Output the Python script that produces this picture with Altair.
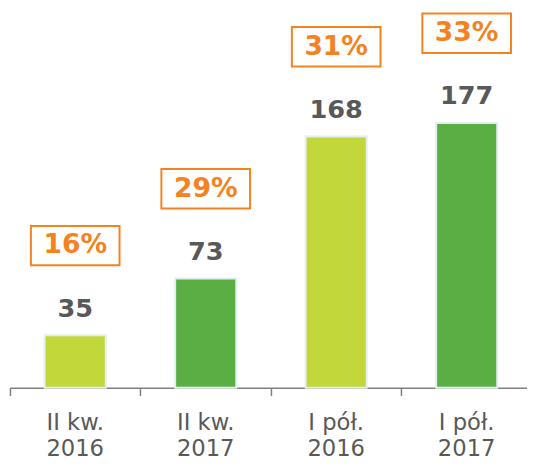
import altair as alt
import pandas as pd

categories = ["II kw.|2016", "II kw.|2017", "I pół.|2016", "I pół.|2017"]
values = [35, 73, 168, 177]
shares = ["16%", "29%", "31%", "33%"]
years = ["2016", "2017", "2016", "2017"]

df = pd.DataFrame({"cat": categories, "value": values, "share": shares, "year": years})

FONT = "DejaVu Sans"
GRAY = "#595959"
ORANGE = "#f58220"

x = alt.X(
    "cat:N",
    sort=categories,
    scale=alt.Scale(rangeMin=0, rangeMax=530, paddingInner=0, paddingOuter=0),
    axis=alt.Axis(
        title=None,
        labelExpr="split(datum.label, '|')",
        labelAngle=0,
        bandPosition=0,
        domainColor="#808080",
        tickColor="#808080",
        tickSize=8,
        domainWidth=1.5,
        tickWidth=1.5,
        labelFont=FONT,
        labelFontSize=23,
        labelColor=GRAY,
        labelLineHeight=26,
        labelPadding=17,
        labelBaseline="top",
    ),
)
y = alt.Y("value:Q", scale=alt.Scale(domain=[0, 251.6], nice=False), axis=None)

base = alt.Chart(df)

bars = base.mark_bar(width=62, stroke="#e3eef3", strokeWidth=2).encode(
    x=x,
    y=y,
    color=alt.Color(
        "year:N",
        scale=alt.Scale(domain=["2016", "2017"], range=["#c1d73a", "#5bae44"]),
        legend=None,
    ),
)

labels = base.mark_text(
    dy=-27, fontSize=26, fontWeight="bold", font=FONT, color=GRAY, baseline="middle"
).encode(x=x, y=y, text="value:Q")

share_base = base.transform_calculate(sy="datum.value + 60")

boxes = share_base.mark_point(
    shape="M-1,-0.444L1,-0.444L1,0.444L-1,0.444Z",
    size=8100,
    filled=False,
    stroke=ORANGE,
    strokeWidth=2,
    opacity=1,
).encode(x=x, y=alt.Y("sy:Q"))

share_text = share_base.mark_text(
    fontSize=27, fontWeight="bold", font=FONT, color=ORANGE, baseline="middle"
).encode(x=x, y=alt.Y("sy:Q"), text="share:N")

chart = (
    alt.layer(bars, labels, boxes, share_text)
    .properties(
        width=525,
        height=382,
        padding={"left": 2, "top": 0, "right": 0, "bottom": 72},
        autosize="none",
    )
    .configure_view(stroke=None)
)

chart.save("out.html", embed_options={"renderer": "svg", "actions": False})
